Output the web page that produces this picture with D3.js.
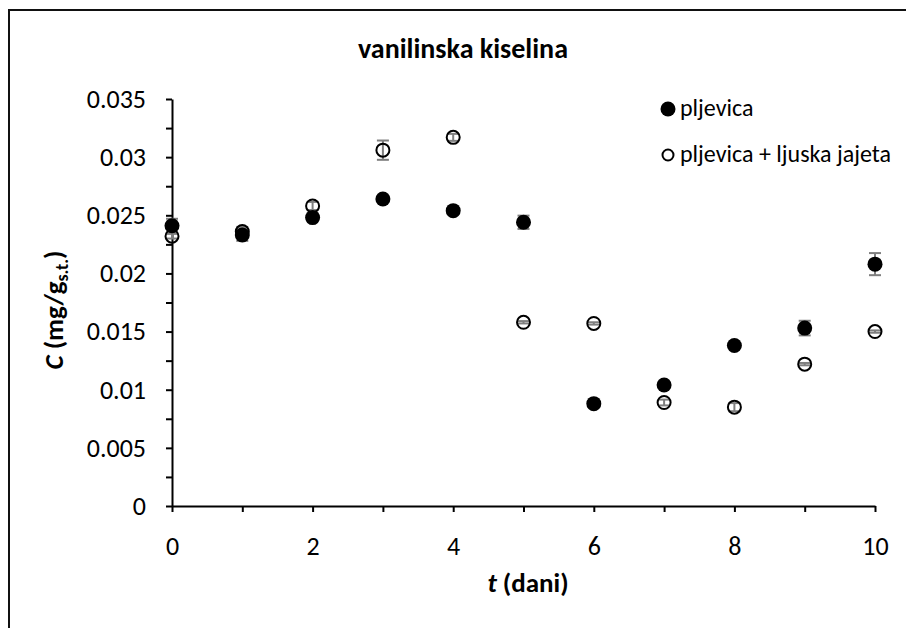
<!DOCTYPE html>
<html>
<head>
<meta charset="utf-8">
<script src="https://cdn.jsdelivr.net/npm/d3@7"></script>
<style>
  body { margin: 0; background: #fff; }
  svg text { font-family: Carlito, Lato, "Open Sans", sans-serif; fill: #000; }
</style>
</head>
<body>
<div id="chart"></div>
<script>
// values
const days = [0, 1, 2, 3, 4, 5, 6, 7, 8, 9, 10];
const pljevica = [0.0241, 0.0233, 0.0248, 0.0264, 0.0254, 0.0244, 0.0088, 0.0104, 0.0138, 0.0153, 0.0208];
const pljevicaErr = [0.0006, 0.0005, 0.0003, 0.0002, 0.0002, 0.00057, 0.0002, 0.0002, 0.0002, 0.00063, 0.00095];
const ljuska = [0.0232, 0.0236, 0.0258, 0.0306, 0.0317, 0.0158, 0.0157, 0.0089, 0.0085, 0.0122, 0.0150];
const ljuskaErr = [0.0002, 0.0004, 0.00035, 0.00083, 0.0003, 0.0001, 0.0001, 0.00025, 0.00035, 0.0001, 0.0001];
const xTickLabels = [0, 2, 4, 6, 8, 10];
const yTickLabels = [0, 0.005, 0.01, 0.015, 0.02, 0.025, 0.03, 0.035];
const seriesNames = ["pljevica", "pljevica + ljuska jajeta"];

const width = 906, height = 628;
const svg = d3.select("#chart").append("svg")
    .attr("width", width)
    .attr("height", height);

// outer frame (top and left visible in reference)
svg.append("path")
    .attr("d", `M9,${height} L9,10 L${width},10`)
    .attr("fill", "none")
    .attr("stroke", "#111")
    .attr("stroke-width", 2);

const x = d3.scaleLinear().domain([0, 10]).range([172, 875]);
const y = d3.scaleLinear().domain([0, 0.035]).range([506, 99]);

// x axis
const xAxis = svg.append("g")
    .attr("transform", `translate(0,${y(0)})`)
    .call(d3.axisBottom(x).tickValues(days).tickSize(6).tickSizeOuter(0)
        .tickFormat(d => xTickLabels.includes(d) ? d : ""));
xAxis.select(".domain").attr("stroke", "#000").attr("stroke-width", 2);
xAxis.selectAll(".tick line").attr("stroke", "#000").attr("stroke-width", 2);
xAxis.selectAll(".tick text")
    .attr("y", 49)
    .attr("dy", 0)
    .style("font-size", "26px");

// y axis, minor ticks every 0.0025
const yTicks = d3.range(0, 0.03501, 0.0025);
const yAxis = svg.append("g")
    .attr("transform", `translate(${x(0)},0)`)
    .call(d3.axisLeft(y).tickValues(yTicks).tickSize(6).tickSizeOuter(0)
        .tickFormat(d => {
          const m = yTickLabels.find(v => Math.abs(v - d) < 1e-9);
          return m === undefined ? "" : String(m);
        }));
yAxis.select(".domain").attr("stroke", "#000").attr("stroke-width", 2);
yAxis.selectAll(".tick line").attr("stroke", "#000").attr("stroke-width", 2);
yAxis.selectAll(".tick text")
    .attr("x", -26)
    .style("font-size", "26px");

// title
svg.append("text")
    .attr("x", 463).attr("y", 58)
    .attr("text-anchor", "middle")
    .style("font-size", "28px")
    .style("font-weight", "bold")
    .text("vanilinska kiselina");

// x axis title
const xt = svg.append("text")
    .attr("x", 528).attr("y", 592)
    .attr("text-anchor", "middle")
    .style("font-size", "27px")
    .style("font-weight", "bold");
xt.append("tspan").style("font-style", "italic").text("t");
xt.append("tspan").text(" (dani)");

// y axis title
const yt = svg.append("text")
    .attr("transform", "translate(63,310) rotate(-90)")
    .attr("text-anchor", "middle")
    .style("font-size", "27px")
    .style("font-weight", "bold");
yt.append("tspan").style("font-style", "italic").text("C");
yt.append("tspan").text(" (mg/g");
yt.append("tspan").attr("dy", 5).style("font-size", "18px").text("s.t.");
yt.append("tspan").attr("dy", -5).text(")");

// error bars behind markers
const errColor = "#7f7f7f";
function drawErr(vals, errs) {
  const g = svg.append("g")
      .attr("stroke", errColor)
      .attr("stroke-width", 2);
  days.forEach((d, i) => {
    const cx = x(d), lo = y(vals[i] - errs[i]), hi = y(vals[i] + errs[i]);
    g.append("line").attr("x1", cx).attr("x2", cx).attr("y1", lo).attr("y2", hi);
    g.append("line").attr("x1", cx - 6).attr("x2", cx + 6).attr("y1", lo).attr("y2", lo);
    g.append("line").attr("x1", cx - 6).attr("x2", cx + 6).attr("y1", hi).attr("y2", hi);
  });
}
drawErr(pljevica, pljevicaErr);
drawErr(ljuska, ljuskaErr);

svg.append("g").selectAll("circle")
    .data(days)
  .enter().append("circle")
    .attr("cx", d => x(d))
    .attr("cy", (d, i) => y(pljevica[i]))
    .attr("r", 7.5)
    .attr("fill", "#000");

svg.append("g").selectAll("circle")
    .data(days)
  .enter().append("circle")
    .attr("cx", d => x(d))
    .attr("cy", (d, i) => y(ljuska[i]))
    .attr("r", 6.5)
    .attr("fill", "none")
    .attr("stroke", "#000")
    .attr("stroke-width", 2);

// legend
const legend = svg.append("g");
legend.append("circle").attr("cx", 668).attr("cy", 109).attr("r", 7.5).attr("fill", "#000");
legend.append("circle").attr("cx", 668).attr("cy", 155).attr("r", 5.5)
    .attr("fill", "none").attr("stroke", "#000").attr("stroke-width", 2);
legend.selectAll("text.lbl")
    .data(seriesNames)
  .enter().append("text")
    .attr("class", "lbl")
    .attr("x", 680)
    .attr("y", (d, i) => 116 + i * 46)
    .style("font-size", "24px")
    .text(d => d);
</script>
</body>
</html>
